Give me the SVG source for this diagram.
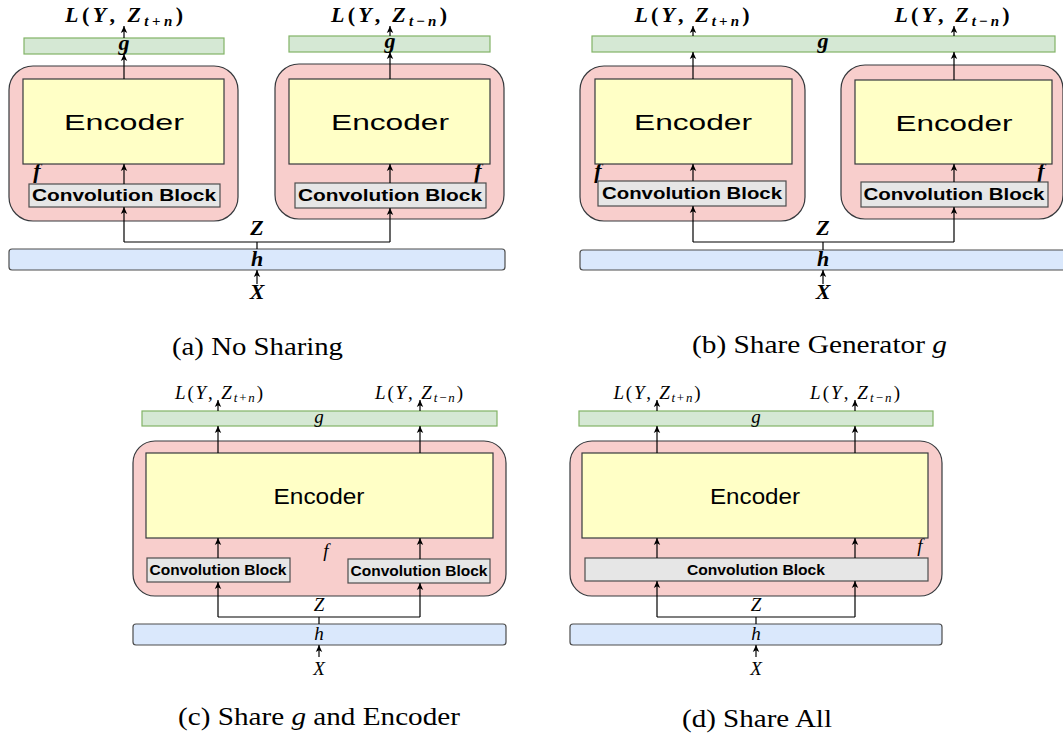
<svg xmlns="http://www.w3.org/2000/svg" width="1063" height="734" viewBox="0 0 1063 734">
<style>
.red{fill:#f8cecc;stroke:#36393d;stroke-width:1.2}
.enc{fill:#ffffc6;stroke:#36393d;stroke-width:1.2}
.conv{fill:#e6e6e6;stroke:#4d4d4d;stroke-width:1.2}
.g{fill:#d5e8d4;stroke:#82b366;stroke-width:1.2}
.h{fill:#dae8fc;stroke:#4d4d4d;stroke-width:1.2}
.ln{fill:none;stroke:#000;stroke-width:1.2}
.ar{fill:none;stroke:#000;stroke-width:1.2;marker-end:url(#ah)}
.sans{font-family:"Liberation Sans",Arial,sans-serif;fill:#000}
.encT{font-size:22px;text-anchor:middle}
.convT{font-size:16px;font-weight:bold;text-anchor:middle}
.convS{font-size:14.5px;font-weight:bold;text-anchor:middle}
.mb{font-family:"Liberation Serif","Times New Roman",serif;font-weight:bold;font-size:22px;text-anchor:middle;fill:#000}
.ms{font-family:"Liberation Serif","Times New Roman",serif;font-size:19px;text-anchor:middle;fill:#000}
.it{font-style:italic}
.cap{font-family:"Liberation Serif","Times New Roman",serif;font-size:26px;text-anchor:middle;fill:#000}
</style>
<defs>
<marker id="ah" markerWidth="8" markerHeight="8" refX="7" refY="4" orient="auto" markerUnits="userSpaceOnUse">
<path d="M0,0.8 L7,4 L0,7.2 L1.8,4 Z" fill="#000"/>
</marker>
</defs>

<!-- ===== Panel (a) ===== -->
<g id="a-g1"><rect class="g" x="24" y="38" width="200" height="16"/><text class="mb it" x="124" y="50">g</text></g>
<g id="a-g2"><rect class="g" x="289" y="36" width="201" height="16"/><text class="mb it" x="390" y="48">g</text></g>
<g id="a-f1"><rect class="red" x="9" y="66" width="229" height="155" rx="24"/><text class="mb it" x="37" y="178">f</text></g>
<g id="a-f2"><rect class="red" x="275" y="64" width="229" height="155" rx="24"/><text class="mb it" x="478" y="178">f</text></g>
<g id="a-enc1"><rect class="enc" x="23" y="79" width="201" height="85"/><text class="sans encT" x="124" y="130" textLength="120" lengthAdjust="spacingAndGlyphs">Encoder</text></g>
<g id="a-enc2"><rect class="enc" x="289" y="79" width="201" height="85"/><text class="sans encT" x="390" y="130" textLength="118" lengthAdjust="spacingAndGlyphs">Encoder</text></g>
<g id="a-conv1"><rect class="conv" x="29" y="184" width="191" height="23"/><text class="sans convT" x="124" y="201" textLength="184" lengthAdjust="spacingAndGlyphs">Convolution Block</text></g>
<g id="a-conv2"><rect class="conv" x="295" y="183" width="191" height="25"/><text class="sans convT" x="390" y="201" textLength="184" lengthAdjust="spacingAndGlyphs">Convolution Block</text></g>
<g id="a-h"><rect class="h" x="9" y="249" width="496" height="21" rx="3"/><text class="mb it" x="257" y="266">h</text></g>
<g id="a-labels">
<text class="mb" x="124" y="22" textLength="118" lengthAdjust="spacing"><tspan class="it">L</tspan>(<tspan class="it">Y</tspan>, <tspan class="it">Z</tspan><tspan class="it" font-size="15" dy="4">t</tspan><tspan font-size="15">+</tspan><tspan class="it" font-size="15">n</tspan><tspan dy="-4">)</tspan></text>
<text class="mb" x="389" y="22" textLength="116" lengthAdjust="spacing"><tspan class="it">L</tspan>(<tspan class="it">Y</tspan>, <tspan class="it">Z</tspan><tspan class="it" font-size="15" dy="4">t</tspan><tspan font-size="15">−</tspan><tspan class="it" font-size="15">n</tspan><tspan dy="-4">)</tspan></text>
<text class="mb it" x="257" y="235">Z</text>
<text class="mb it" x="257" y="299">X</text>
<text class="cap" x="257.5" y="355" textLength="171" lengthAdjust="spacingAndGlyphs">(a) No Sharing</text>
</g>
<g id="a-connectors">
<path class="ar" d="M124,38 V26"/>
<path class="ar" d="M390,36 V26"/>
<path class="ar" d="M124,79 V54"/>
<path class="ar" d="M390,79 V52"/>
<path class="ar" d="M124,184 V164"/>
<path class="ar" d="M390,183 V164"/>
<path class="ln" d="M257,249 V242 M124,242 H390"/>
<path class="ar" d="M124,242 V207"/>
<path class="ar" d="M390,242 V208"/>
<path class="ar" d="M257,284 V270"/>
</g>

<!-- ===== Panel (b) ===== -->
<g id="b-g"><rect class="g" x="592" y="36" width="463" height="16"/><text class="mb it" x="823" y="48">g</text></g>
<g id="b-f1"><rect class="red" x="580" y="66" width="225" height="155" rx="24"/><text class="mb it" x="598" y="178">f</text></g>
<g id="b-f2"><rect class="red" x="841" y="65" width="222" height="154" rx="24"/><text class="mb it" x="1041" y="178">f</text></g>
<g id="b-enc1"><rect class="enc" x="595" y="79" width="197" height="85"/><text class="sans encT" x="693" y="130" textLength="118" lengthAdjust="spacingAndGlyphs">Encoder</text></g>
<g id="b-enc2"><rect class="enc" x="855" y="80" width="197" height="84"/><text class="sans encT" x="954" y="131" textLength="117" lengthAdjust="spacingAndGlyphs">Encoder</text></g>
<g id="b-conv1"><rect class="conv" x="598" y="181" width="188" height="25"/><text class="sans convT" x="692" y="199" textLength="180" lengthAdjust="spacingAndGlyphs">Convolution Block</text></g>
<g id="b-conv2"><rect class="conv" x="861" y="182" width="187" height="25"/><text class="sans convT" x="954" y="200" textLength="181" lengthAdjust="spacingAndGlyphs">Convolution Block</text></g>
<g id="b-h"><rect class="h" x="580" y="250" width="490" height="20" rx="3"/><text class="mb it" x="823" y="266">h</text></g>
<g id="b-labels">
<text class="mb" x="692" y="22" textLength="115" lengthAdjust="spacing"><tspan class="it">L</tspan>(<tspan class="it">Y</tspan>, <tspan class="it">Z</tspan><tspan class="it" font-size="15" dy="4">t</tspan><tspan font-size="15">+</tspan><tspan class="it" font-size="15">n</tspan><tspan dy="-4">)</tspan></text>
<text class="mb" x="952" y="22" textLength="115" lengthAdjust="spacing"><tspan class="it">L</tspan>(<tspan class="it">Y</tspan>, <tspan class="it">Z</tspan><tspan class="it" font-size="15" dy="4">t</tspan><tspan font-size="15">−</tspan><tspan class="it" font-size="15">n</tspan><tspan dy="-4">)</tspan></text>
<text class="mb it" x="823" y="235">Z</text>
<text class="mb it" x="823" y="299">X</text>
<text class="cap" x="819.5" y="353" textLength="255" lengthAdjust="spacingAndGlyphs">(b) Share Generator <tspan class="it">g</tspan></text>
</g>
<g id="b-connectors">
<path class="ar" d="M693,36 V26"/>
<path class="ar" d="M954,36 V26"/>
<path class="ar" d="M693,79 V52"/>
<path class="ar" d="M954,80 V52"/>
<path class="ar" d="M693,181 V164"/>
<path class="ar" d="M954,182 V164"/>
<path class="ln" d="M823,250 V242 M693,242 H954"/>
<path class="ar" d="M693,242 V206"/>
<path class="ar" d="M954,242 V207"/>
<path class="ar" d="M823,284 V270"/>
</g>

<!-- ===== Panel (c) ===== -->
<g id="c-g"><rect class="g" x="142" y="411" width="355" height="15"/><text class="ms it" x="319" y="423">g</text></g>
<g id="c-f"><rect class="red" x="133" y="441" width="373" height="155" rx="22"/><text class="ms it" x="326" y="557">f</text></g>
<g id="c-enc"><rect class="enc" x="146" y="453" width="347" height="85"/><text class="sans encT" x="319" y="504" textLength="91" lengthAdjust="spacingAndGlyphs">Encoder</text></g>
<g id="c-conv1"><rect class="conv" x="147" y="558" width="143" height="24"/><text class="sans convS" x="218" y="575" textLength="137" lengthAdjust="spacingAndGlyphs">Convolution Block</text></g>
<g id="c-conv2"><rect class="conv" x="348" y="559" width="142" height="24"/><text class="sans convS" x="419" y="576" textLength="137" lengthAdjust="spacingAndGlyphs">Convolution Block</text></g>
<g id="c-h"><rect class="h" x="133" y="624" width="373" height="21" rx="3"/><text class="ms it" x="319" y="640">h</text></g>
<g id="c-labels">
<text class="ms" x="219" y="399" textLength="88" lengthAdjust="spacing"><tspan class="it">L</tspan>(<tspan class="it">Y</tspan>, <tspan class="it">Z</tspan><tspan class="it" font-size="13" dy="3">t</tspan><tspan font-size="13">+</tspan><tspan class="it" font-size="13">n</tspan><tspan dy="-3">)</tspan></text>
<text class="ms" x="419" y="399" textLength="88" lengthAdjust="spacing"><tspan class="it">L</tspan>(<tspan class="it">Y</tspan>, <tspan class="it">Z</tspan><tspan class="it" font-size="13" dy="3">t</tspan><tspan font-size="13">−</tspan><tspan class="it" font-size="13">n</tspan><tspan dy="-3">)</tspan></text>
<text class="ms it" x="319" y="611">Z</text>
<text class="ms it" x="319" y="675">X</text>
<text class="cap" x="319" y="725" textLength="282" lengthAdjust="spacingAndGlyphs">(c) Share <tspan class="it">g</tspan> and Encoder</text>
</g>
<g id="c-connectors">
<path class="ar" d="M218,411 V400"/>
<path class="ar" d="M420,411 V400"/>
<path class="ar" d="M218,453 V426"/>
<path class="ar" d="M420,453 V426"/>
<path class="ar" d="M218,558 V538"/>
<path class="ar" d="M420,559 V538"/>
<path class="ln" d="M319,624 V617 M218,617 H420"/>
<path class="ar" d="M218,617 V582"/>
<path class="ar" d="M420,617 V583"/>
<path class="ar" d="M319,657 V645"/>
</g>

<!-- ===== Panel (d) ===== -->
<g id="d-g"><rect class="g" x="579" y="411" width="354" height="15"/><text class="ms it" x="756" y="423">g</text></g>
<g id="d-f"><rect class="red" x="570" y="441" width="372" height="155" rx="22"/><text class="ms it" x="920" y="552">f</text></g>
<g id="d-enc"><rect class="enc" x="582" y="453" width="346" height="85"/><text class="sans encT" x="755" y="504" textLength="90" lengthAdjust="spacingAndGlyphs">Encoder</text></g>
<g id="d-conv"><rect class="conv" x="585" y="558" width="343" height="23"/><text class="sans convS" x="756" y="575" textLength="138" lengthAdjust="spacingAndGlyphs">Convolution Block</text></g>
<g id="d-h"><rect class="h" x="570" y="624" width="372" height="21" rx="3"/><text class="ms it" x="756" y="640">h</text></g>
<g id="d-labels">
<text class="ms" x="657" y="399" textLength="87" lengthAdjust="spacing"><tspan class="it">L</tspan>(<tspan class="it">Y</tspan>, <tspan class="it">Z</tspan><tspan class="it" font-size="13" dy="3">t</tspan><tspan font-size="13">+</tspan><tspan class="it" font-size="13">n</tspan><tspan dy="-3">)</tspan></text>
<text class="ms" x="855" y="399" textLength="90" lengthAdjust="spacing"><tspan class="it">L</tspan>(<tspan class="it">Y</tspan>, <tspan class="it">Z</tspan><tspan class="it" font-size="13" dy="3">t</tspan><tspan font-size="13">−</tspan><tspan class="it" font-size="13">n</tspan><tspan dy="-3">)</tspan></text>
<text class="ms it" x="756" y="611">Z</text>
<text class="ms it" x="756" y="675">X</text>
<text class="cap" x="757" y="727" textLength="150" lengthAdjust="spacingAndGlyphs">(d) Share All</text>
</g>
<g id="d-connectors">
<path class="ar" d="M657,411 V400"/>
<path class="ar" d="M855,411 V400"/>
<path class="ar" d="M657,453 V426"/>
<path class="ar" d="M855,453 V426"/>
<path class="ar" d="M657,558 V538"/>
<path class="ar" d="M855,558 V538"/>
<path class="ln" d="M756,624 V617 M657,617 H855"/>
<path class="ar" d="M657,617 V581"/>
<path class="ar" d="M855,617 V581"/>
<path class="ar" d="M756,657 V645"/>
</g>
</svg>
